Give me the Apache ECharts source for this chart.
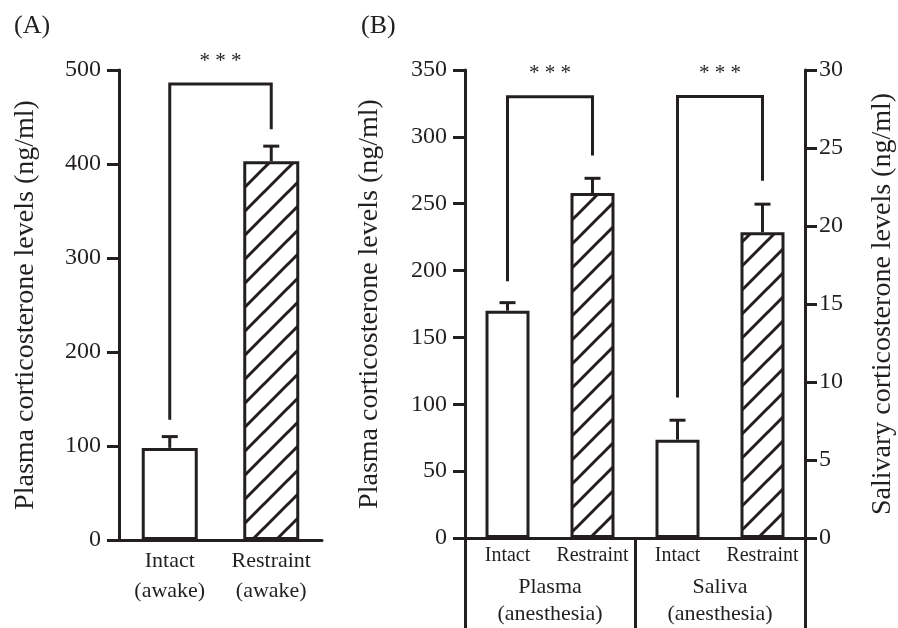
<!DOCTYPE html>
<html>
<head>
<meta charset="utf-8">
<script src="https://cdn.jsdelivr.net/npm/echarts@6/dist/echarts.min.js"></script>
<style>
html, body { margin: 0; padding: 0; background: #fff; }
#chart { width: 898px; height: 628px; }
</style>
</head>
<body>
<div id="chart"></div>
<script>
// panel A
const catsA = ['Intact\n(awake)', 'Restraint\n(awake)'];
const meanA = [98, 403];
const errA = [12, 16];
const bracketA = [0, 1, 128, 437, 485]; // from, to, left leg end, right leg end, top

// panel B
const catsB = ['Intact', 'Restraint', 'Intact', 'Restraint'];
const groupsB = ['Plasma\n(anesthesia)', 'Saliva\n(anesthesia)'];
const plasmaMean = [170, 258];
const plasmaErr = [6, 11];
const salivaMean = [6.3, 19.6];
const salivaErr = [1.25, 1.8];
const bracketPlasma = [0, 1, 192, 286, 330];
const bracketSaliva = [2, 3, 9, 22.9, 28.3];

const ink = '#231f20';
const serif = 'Liberation Serif';

const hatch = function () {
    const s = 24;
    const c = document.createElement('canvas');
    c.width = s;
    c.height = s;
    const g = c.getContext('2d');
    g.fillStyle = '#fff';
    g.fillRect(0, 0, s, s);
    g.strokeStyle = ink;
    g.lineWidth = 3;
    g.beginPath();
    g.moveTo(-s, s); g.lineTo(s, -s);
    g.moveTo(0, s); g.lineTo(s, 0);
    g.moveTo(0, 2 * s); g.lineTo(2 * s, 0);
    g.stroke();
    return {image: c, repeat: 'repeat'};
};

const plainStyle = {color: '#fff', borderColor: ink, borderWidth: 3};
const hatchStyle = {color: hatch(), borderColor: ink, borderWidth: 3};
const styled = (v, i) => ({value: v, itemStyle: i % 2 ? hatchStyle : plainStyle});

const errorItem = function (params, api) {
    const x = api.value(0), m = api.value(1), e = api.value(2);
    const p0 = api.coord([x, m]);
    const p1 = api.coord([x, m + e]);
    const w = 8;
    return {
        type: 'group',
        children: [
            {type: 'line', shape: {x1: p0[0], y1: p0[1], x2: p1[0], y2: p1[1]}, style: {stroke: ink, lineWidth: 3}},
            {type: 'line', shape: {x1: p1[0] - w, y1: p1[1], x2: p1[0] + w, y2: p1[1]}, style: {stroke: ink, lineWidth: 3}}
        ]
    };
};

const bracketItem = function (params, api) {
    const a = api.value(0), b = api.value(1);
    const pl = api.coord([a, api.value(2)]);
    const pr = api.coord([b, api.value(3)]);
    const tl = api.coord([a, api.value(4)]);
    const tr = api.coord([b, api.value(4)]);
    return {
        type: 'group',
        children: [
            {type: 'polyline', shape: {points: [pl, tl, tr, pr]}, style: {stroke: ink, lineWidth: 3, fill: null}},
            {type: 'text', style: {text: '* * *', x: (tl[0] + tr[0]) / 2, y: tl[1] - 23, align: 'center', verticalAlign: 'middle',
                    fontSize: 21, fontFamily: serif, fill: ink}}
        ]
    };
};

const valueAxis = (grid, min, max, step, pos, name, gap, margin) => ({
    type: 'value', gridIndex: grid, min: min, max: max, interval: step, position: pos,
    name: name, nameLocation: 'middle', nameGap: gap, nameRotate: 90,
    nameTextStyle: {fontSize: 28, fontFamily: serif, color: ink},
    splitLine: {show: false},
    axisLine: {show: true, lineStyle: {color: ink, width: 3}},
    axisTick: {show: true, length: 12, lineStyle: {color: ink, width: 3}},
    axisLabel: {fontSize: 24, fontFamily: serif, color: ink, margin: margin}
});

const chart = echarts.init(document.getElementById('chart'));
chart.setOption({
    animation: false,
    title: [
        {text: '(A)', left: 9, top: 8, textStyle: {fontSize: 26, fontWeight: 'normal', fontFamily: serif, color: ink}},
        {text: '(B)', left: 356, top: 8, textStyle: {fontSize: 26, fontWeight: 'normal', fontFamily: serif, color: ink}}
    ],
    grid: [
        {left: 119, top: 70, width: 203, height: 470},
        {left: 465, top: 70, width: 341, height: 470}
    ],
    xAxis: [
        {type: 'category', gridIndex: 0, data: catsA,
            axisLine: {lineStyle: {color: ink, width: 3}}, axisTick: {show: false},
            axisLabel: {fontSize: 22, fontFamily: serif, color: ink, lineHeight: 30, margin: 6, interval: 0}},
        {type: 'category', gridIndex: 1, data: catsB,
            axisLine: {lineStyle: {color: ink, width: 3}}, axisTick: {show: false},
            axisLabel: {fontSize: 20, fontFamily: serif, color: ink, margin: 8, interval: 0}},
        {type: 'category', gridIndex: 1, data: groupsB, position: 'bottom',
            axisLine: {show: false},
            axisTick: {show: true, length: 90, lineStyle: {color: ink, width: 3}},
            axisLabel: {fontSize: 22, fontFamily: serif, color: ink, lineHeight: 27, margin: 36, interval: 0}}
    ],
    yAxis: [
        valueAxis(0, 0, 500, 100, 'left', 'Plasma corticosterone levels (ng/ml)', 79, 18),
        valueAxis(1, 0, 350, 50, 'left', 'Plasma corticosterone levels (ng/ml)', 81, 18),
        valueAxis(1, 0, 30, 5, 'right', 'Salivary corticosterone levels (ng/ml)', 64, 14)
    ],
    series: [
        {type: 'bar', xAxisIndex: 0, yAxisIndex: 0, barWidth: 56, data: meanA.map(styled)},
        {type: 'custom', xAxisIndex: 0, yAxisIndex: 0, renderItem: errorItem, z: 3,
            data: meanA.map((m, i) => [i, m, errA[i]])},
        {type: 'custom', xAxisIndex: 0, yAxisIndex: 0, renderItem: bracketItem, z: 3, data: [bracketA]},

        {type: 'bar', xAxisIndex: 1, yAxisIndex: 1, barWidth: 44, barGap: '-100%',
            data: plasmaMean.map(styled).concat(['-', '-'])},
        {type: 'bar', xAxisIndex: 1, yAxisIndex: 2, barWidth: 44, barGap: '-100%',
            data: ['-', '-'].concat(salivaMean.map(styled))},
        {type: 'custom', xAxisIndex: 1, yAxisIndex: 1, renderItem: errorItem, z: 3,
            data: plasmaMean.map((m, i) => [i, m, plasmaErr[i]])},
        {type: 'custom', xAxisIndex: 1, yAxisIndex: 2, renderItem: errorItem, z: 3,
            data: salivaMean.map((m, i) => [i + 2, m, salivaErr[i]])},
        {type: 'custom', xAxisIndex: 1, yAxisIndex: 1, renderItem: bracketItem, z: 3, data: [bracketPlasma]},
        {type: 'custom', xAxisIndex: 1, yAxisIndex: 2, renderItem: bracketItem, z: 3, data: [bracketSaliva]}
    ]
});
</script>
</body>
</html>
